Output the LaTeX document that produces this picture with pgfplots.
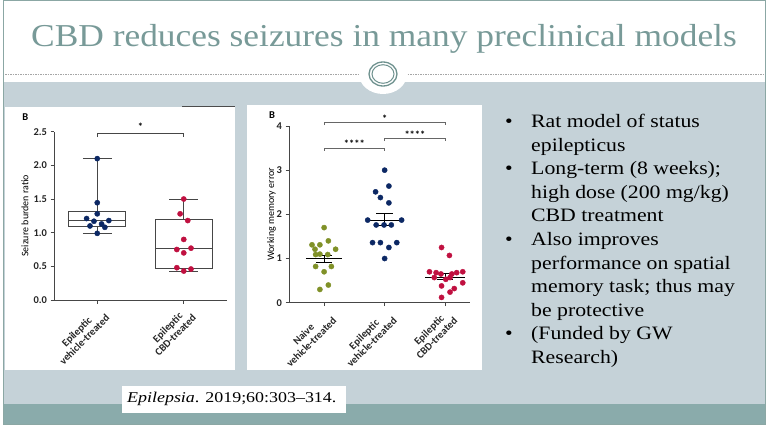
\documentclass[border=0pt]{standalone}
\usepackage{fontspec}
\setmainfont{Liberation Serif}
\setsansfont{Carlito}
\newfontfamily\slidefont[FakeStretch=1.15]{Liberation Serif}
\newfontfamily\titlefont[FakeStretch=1.11]{Liberation Serif}
\newfontfamily\citefont[FakeStretch=1.2]{Liberation Serif}
\usepackage{pgfplots}
\pgfplotsset{compat=1.18}
\usepgfplotslibrary{statistics}
\definecolor{bandgrey}{RGB}{197,210,216}
\definecolor{bandteal}{RGB}{138,171,171}
\definecolor{titlecol}{RGB}{120,154,152}
\definecolor{ringcol}{RGB}{110,145,142}
\definecolor{navy}{RGB}{12,40,100}
\definecolor{crimson}{RGB}{192,16,64}
\definecolor{olive}{RGB}{128,145,40}
\definecolor{axgrey}{RGB}{70,70,70}
\newcommand\tickfont{\sffamily\bfseries\fontsize{10.5}{11}\selectfont}
\newcommand\labfont{\sffamily\fontsize{10}{11}\selectfont}
\pgfplotsset{
  gpstyle/.style={
    scale only axis, anchor=south west, clip=false,
    axis lines=left, axis line style={-, axgrey, line width=0.9bp},
    tick align=outside, major tick length=3.5bp,
    tick style={axgrey, line width=0.9bp},
    ticklabel style={font=\tickfont, text=black!85},
    /pgf/number format/assume math mode=true,
    xticklabel style={rotate=45, anchor=north east, align=center, inner sep=1.5bp},
    ylabel style={font=\labfont, anchor=center},
  },
  dots/.style={only marks, mark=*, mark size=2.6bp, #1, mark options={draw=#1, fill=#1}},
}
\begin{document}
\begin{tikzpicture}
\begin{scope}[x=1bp,y=1bp]
\path[use as bounding box] (0,0) rectangle (769,427);
\fill[white] (0,0) rectangle (769,427);
\fill[bandgrey] (4,23) rectangle (765,345);
\fill[bandteal] (4,3) rectangle (765,23);
\draw[ringcol!80, line width=1bp] (3.5,3) rectangle (765.5,426.5);
\draw[gray!70, dash pattern=on 1.5bp off 1bp, line width=0.6bp] (5,353) -- (763,353);
\fill[white] (383,353) ellipse (24 and 20);
\draw[ringcol, line width=1.3bp] (383,353) ellipse (14 and 12);
\draw[ringcol, line width=1bp] (383,353) ellipse (11 and 9.3);
\fill[white] (5,57) rectangle (235,320);
\draw[black!70, line width=1bp] (182,320.5) -- (235,320.5);
\fill[white] (247,57) rectangle (482,322);
\fill[white] (122,14.5) rectangle (345.5,41);
\end{scope}

% ---------- left chart ----------
\begin{axis}[gpstyle, at={(54bp,127bp)}, width=173bp, height=168.3bp,
  xmin=0.5, xmax=2.5, ymin=0, ymax=2.5,
  ytick={0,0.5,1,1.5,2,2.5},
  yticklabel style={/pgf/number format/.cd, fixed, fixed zerofill, precision=1},
  xtick={1,2},
  xticklabels={{Epileptic\\vehicle-treated},{Epileptic\\CBD-treated}},
  ylabel={Seizure burden ratio},
  ylabel style={at={(axis description cs:-0.168,0.5)}},
  boxplot/draw direction=y,
]
\addplot[axgrey, line width=0.8bp, solid, boxplot prepared={median=1.18, upper quartile=1.32, lower quartile=1.10, upper whisker=2.10, lower whisker=0.99, draw position=1, box extend=0.66, whisker extend=0.33}] coordinates {};
\addplot[axgrey, line width=0.8bp, solid, boxplot prepared={median=0.76, upper quartile=1.20, lower quartile=0.47, upper whisker=1.50, lower whisker=0.43, draw position=2, box extend=0.66, whisker extend=0.33}] coordinates {};
\addplot[dots=navy] coordinates {(1,2.10) (1,1.445) (1,1.28) (0.877,1.21) (0.962,1.17) (1.134,1.18) (0.916,1.10) (1.05,1.13) (1.088,1.08) (1,0.99)};
\addplot[dots=crimson] coordinates {(2,1.50) (1.958,1.28) (2.046,1.18) (2,0.90) (1.92,0.75) (2.084,0.77) (2,0.70) (1.92,0.48) (2,0.43) (2.084,0.46)};
\addplot[axgrey, line width=0.7bp] coordinates {(1,2.42) (1,2.48) (2,2.48) (2,2.42)};
\node[font=\tickfont] at (axis cs:1.5,2.57) {*};
\node[font=\tickfont] at (axis cs:0.167,2.72) {B};
\end{axis}

% ---------- right chart ----------
\begin{axis}[gpstyle, at={(289bp,124.3bp)}, width=181bp, height=176.7bp,
  xmin=0.42, xmax=3.41, ymin=0, ymax=4,
  ytick={0,1,2,3,4},
  xtick={1,2,3},
  xticklabels={{Naive\\vehicle-treated},{Epileptic\\vehicle-treated},{Epileptic\\CBD-treated}},
  ylabel={Working memory error},
  ylabel style={at={(axis description cs:-0.096,0.5)}},
]
\addplot[dots=olive] coordinates {(1.00,1.70) (1.07,1.40) (0.93,1.31) (0.80,1.31) (0.85,1.21) (1.19,1.21) (0.86,1.09) (0.93,1.10) (1.06,1.09) (0.86,0.82) (1.12,0.82) (1.00,0.70) (1.07,0.40) (0.93,0.30)};
\addplot[dots=navy] coordinates {(2.00,3.00) (2.07,2.64) (1.85,2.51) (1.93,2.38) (2.07,2.26) (1.72,1.87) (2.28,1.87) (1.86,1.76) (1.99,1.76) (2.11,1.76) (1.80,1.36) (1.93,1.36) (2.20,1.36) (2.07,1.25) (2.00,1.00)};
\addplot[dots=crimson] coordinates {(2.94,1.25) (3.07,1.07) (2.74,0.70) (2.85,0.68) (2.93,0.65) (3.11,0.65) (3.19,0.68) (3.29,0.70) (2.82,0.57) (3.01,0.53) (3.08,0.57) (3.29,0.45) (2.94,0.38) (3.15,0.32) (3.08,0.24) (2.94,0.12)};
% means and SEM
\addplot[black, line width=1bp] coordinates {(0.70,1.00) (1.30,1.00)};
\addplot[black, line width=1bp] coordinates {(1,0.92) (1,1.07)};
\addplot[black, line width=1bp] coordinates {(0.87,1.07) (1.13,1.07)};
\addplot[black, line width=1bp] coordinates {(0.87,0.92) (1.13,0.92)};
\addplot[black, line width=1bp] coordinates {(1.71,1.87) (2.29,1.87)};
\addplot[black, line width=1bp] coordinates {(2,1.74) (2,2.02)};
\addplot[black, line width=1bp] coordinates {(1.86,2.02) (2.14,2.02)};
\addplot[black, line width=1bp] coordinates {(1.86,1.74) (2.14,1.74)};
\addplot[black, line width=1bp] coordinates {(2.67,0.58) (3.33,0.58)};
\addplot[black, line width=1bp] coordinates {(3,0.52) (3,0.65)};
\addplot[black, line width=1bp] coordinates {(2.87,0.65) (3.13,0.65)};
\addplot[black, line width=1bp] coordinates {(2.87,0.52) (3.13,0.52)};
% brackets
\addplot[gray!80!black, line width=0.8bp] coordinates {(1,4.02) (1,4.08) (3,4.08) (3,4.02)};
\addplot[gray!80!black, line width=0.8bp] coordinates {(2,3.66) (2,3.72) (3,3.72) (3,3.66)};
\addplot[gray!80!black, line width=0.8bp] coordinates {(1,3.44) (1,3.50) (2,3.50) (2,3.44)};
\node[font=\tickfont] at (axis cs:2,4.17) {*};
\node[font=\tickfont] at (axis cs:2.5,3.81) {****};
\node[font=\tickfont] at (axis cs:1.5,3.59) {****};
\node[font=\tickfont] at (axis cs:0.139,4.25) {B};
\end{axis}

\begin{scope}[x=1bp,y=1bp]
\node[anchor=base, font=\titlefont\fontsize{32}{34}\selectfont, text=titlecol, inner sep=0pt] at (384,381) {CBD reduces seizures in many preclinical models};
\begin{scope}[every node/.style={anchor=base west, inner sep=0pt, font=\slidefont\fontsize{19}{20}\selectfont}]
\node at (505,299.5) {•};
\node at (531,299.5) {Rat model of status};
\node at (531,275.9) {epilepticus};
\node at (505,252.3) {•};
\node at (531,252.3) {Long-term (8 weeks);};
\node at (531,228.7) {high dose (200 mg/kg)};
\node at (531,205.1) {CBD treatment};
\node at (505,181.5) {•};
\node at (531,181.5) {Also improves};
\node at (531,157.9) {performance on spatial};
\node at (531,134.3) {memory task; thus may};
\node at (531,110.7) {be protective};
\node at (505,87.1) {•};
\node at (531,87.1) {(Funded by GW};
\node at (531,63.5) {Research)};
\end{scope}
\node[anchor=base west, inner sep=0pt, font=\citefont\fontsize{15}{16}\selectfont] at (127,25) {\textit{Epilepsia}. 2019;60:303–314.};
\end{scope}
\end{tikzpicture}
\end{document}
